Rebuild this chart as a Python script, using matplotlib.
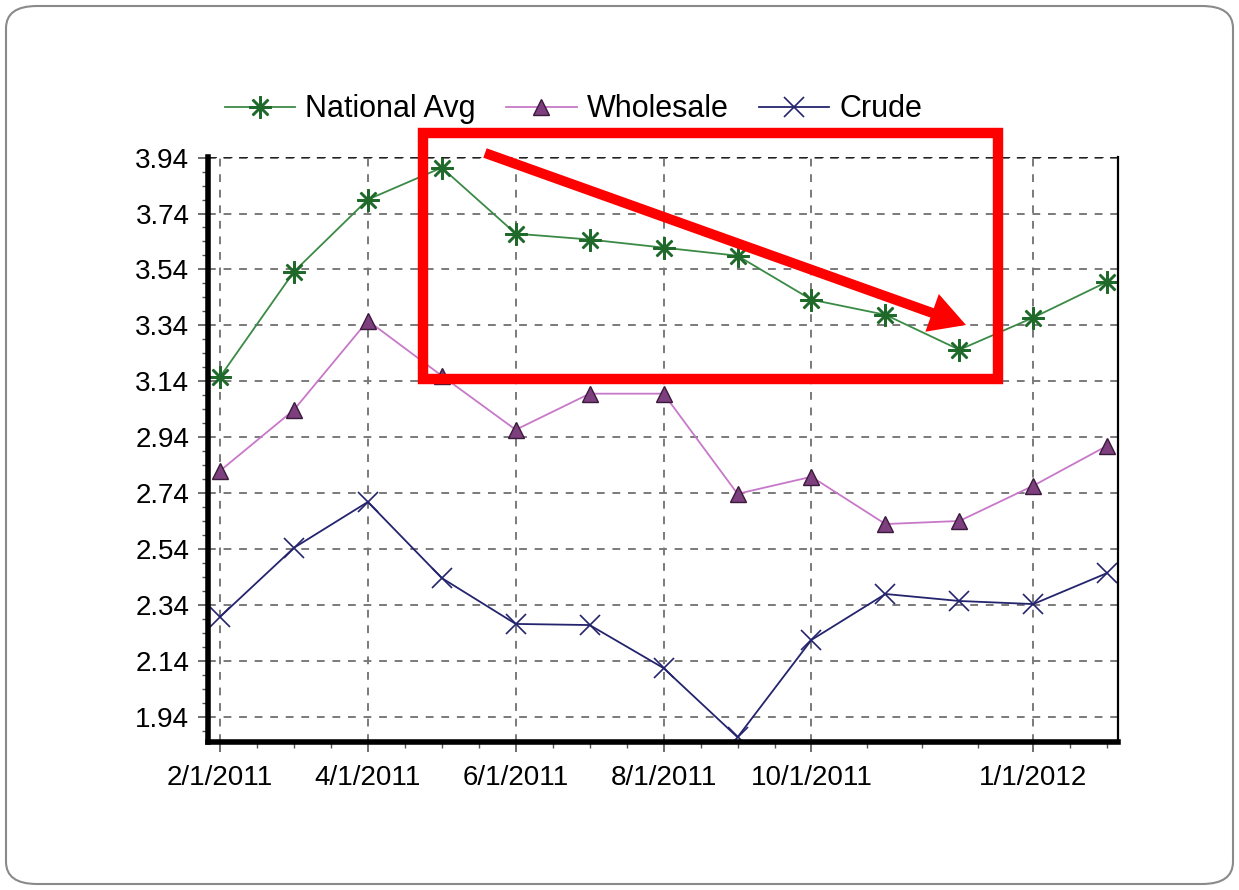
import numpy as np
import matplotlib.pyplot as plt
from matplotlib.patches import FancyBboxPatch, Rectangle, FancyArrow

plt.rcParams['font.family'] = ['Liberation Sans', 'DejaVu Sans']

months = ['2/1/2011', '3/1/2011', '4/1/2011', '5/1/2011', '6/1/2011', '7/1/2011',
          '8/1/2011', '9/1/2011', '10/1/2011', '11/1/2011', '12/1/2011',
          '1/1/2012', '2/1/2012']
national_avg = [3.156, 3.532, 3.79, 3.904, 3.668, 3.647, 3.618, 3.589,
                3.432, 3.378, 3.253, 3.368, 3.496]
wholesale = [2.82, 3.038, 3.357, 3.16, 2.967, 3.096, 3.096, 2.738,
             2.799, 2.63, 2.641, 2.767, 2.91]
crude = [2.298, 2.545, 2.709, 2.437, 2.273, 2.269, 2.115, 1.868,
         2.216, 2.38, 2.355, 2.344, 2.455]
shown_labels = ['2/1/2011', '4/1/2011', '6/1/2011', '8/1/2011', '10/1/2011', '1/1/2012']
y_ticks = np.arange(1.94, 3.95, 0.2)

x = np.arange(len(months))

fig = plt.figure(figsize=(12.39, 8.9), dpi=100)
ax = fig.add_axes([0.168, 0.1663, 0.734, 0.6573])

ax.plot(x, national_avg, color='#3a8a46', lw=1.3, marker=(8, 2, 0), ms=16,
        mec='#1f6a2a', mew=1.8, label='National Avg')
ax.plot(x, wholesale, color='#c878c8', lw=1.3, marker='^', ms=12,
        mfc='#7d3f7d', mec='#3a1a3a', mew=1.0, label='Wholesale')
ax.plot(x, crude, color='#24246e', lw=1.3, marker='x', ms=15,
        mec='#24246e', mew=1.2, label='Crude')

ax.set_xlim(-0.16, 12.14)
ax.set_ylim(1.851, 3.942)

major_idx = [months.index(m) for m in shown_labels]
ax.set_xticks(major_idx)
ax.set_xticklabels(shown_labels)
ax.set_xticks([0.5, 1, 1.5, 2.5, 3, 3.5, 4.5, 5, 5.5, 6.5, 7, 7.5,
               8.75, 9.5, 10.25, 11.5, 12], minor=True)
ax.set_yticks(y_ticks)
ax.set_yticklabels(['%.2f' % v for v in y_ticks])
ax.set_yticks(np.arange(1.89, 3.94, 0.05), minor=True)

ax.tick_params(axis='both', which='major', labelsize=20, length=7.5, width=1.2,
               color='#555555', pad=6)
ax.tick_params(axis='x', which='major', pad=9)
ax.tick_params(axis='both', which='minor', length=4.5, width=1.0, color='#555555')

ax.grid(True, which='major', color='#7a7a7a', linestyle=(0, (4, 4)), lw=1.4)

ax.spines['left'].set_linewidth(4)
ax.spines['bottom'].set_linewidth(4)
ax.spines['right'].set_linewidth(1.6)
ax.spines['top'].set_visible(False)
ax.axhline(3.942, color='#222222', lw=1.6, linestyle=(0, (4, 3)))

leg = fig.legend(loc='center', bbox_to_anchor=(0.463, 0.877), ncol=3, frameon=False,
                 fontsize=22, handlelength=2.3, columnspacing=1.0, handletextpad=0.33)

# rounded frame around the whole picture
frame = FancyBboxPatch((6 / 1239, 6 / 890), 1 - 12 / 1239, 1 - 12 / 890,
                       boxstyle='round,pad=0,rounding_size=0.025',
                       transform=fig.transFigure, fill=False,
                       ec='#8a8a8a', lw=1.5)
fig.add_artist(frame)

# red highlight box and arrow (figure inches)
box = Rectangle((423 / 1239, 1 - 379 / 890), 575 / 1239, 246 / 890,
                transform=fig.transFigure, fill=False, ec='#ff0000', lw=7.5)
fig.add_artist(box)
x0, y0 = 4.85, 8.9 - 1.53
x1, y1 = 9.66, 8.9 - 3.25
arrow = FancyArrow(x0, y0, x1 - x0, y1 - y0, width=0.10, head_width=0.40,
                   head_length=0.36, length_includes_head=True,
                   transform=fig.dpi_scale_trans, color='#ff0000', lw=0)
fig.add_artist(arrow)

fig.savefig('out.png', dpi=100)
